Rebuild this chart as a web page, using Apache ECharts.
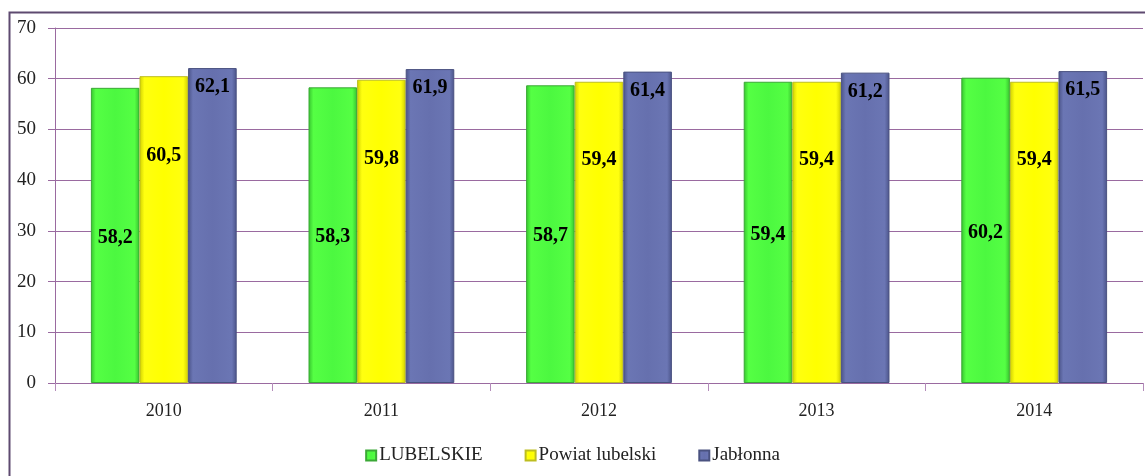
<!DOCTYPE html>
<html><head><meta charset="utf-8">
<script src="https://cdn.jsdelivr.net/npm/echarts@6/dist/echarts.min.js"></script>
<style>html,body{margin:0;padding:0;background:#fff}#c{width:1145px;height:476px}</style>
</head><body><div id="c"></div>
<script>
const categories = ['2010','2011','2012','2013','2014'];
const lubelskie = [58.2, 58.3, 58.7, 59.4, 60.2];
const powiat = [60.5, 59.8, 59.4, 59.4, 59.4];
const jablonna = [62.1, 61.9, 61.4, 61.2, 61.5];
const seriesNames = ['LUBELSKIE','Powiat lubelski','Jabłonna'];
const yTicks = [0,10,20,30,40,50,60,70];

const FONT = '"Liberation Serif", "DejaVu Serif", serif';
function grad(light, mid, dark){
  return new echarts.graphic.LinearGradient(0,0,1,0,[
    {offset:0,color:dark},{offset:0.1,color:light},{offset:0.5,color:mid},{offset:0.9,color:light},{offset:1,color:dark}]);
}
const fmt = p => p.value.toFixed(1).replace('.', ',');
const labelBase = {show:true, fontFamily:FONT, fontWeight:'bold', fontSize:20, color:'#000', formatter:fmt};

const chart = echarts.init(document.getElementById('c'));
chart.setOption({
  animation:false,
  textStyle:{fontFamily:FONT},
  graphic:[{type:'rect', shape:{x:9.5,y:12.5,width:1200,height:500}, style:{fill:'none', stroke:'#5E4A70', lineWidth:2}, silent:true, z:100}],
  grid:{left:55, top:28, right:2, bottom:93, containLabel:false},
  legend:{bottom:6, left:'center', itemWidth:10, itemHeight:10, itemGap:42,
    textStyle:{fontFamily:FONT, fontSize:19, color:'#222', padding:[0,0,0,-2]},
    data:seriesNames.map(n=>({name:n, icon:'rect'}))},
  xAxis:{type:'category', data:categories,
    axisLine:{lineStyle:{color:'#9A6AA0', width:1}},
    axisTick:{show:true, length:8, lineStyle:{color:'#B48CBA'}},
    axisLabel:{fontFamily:FONT, fontSize:18, color:'#222', margin:19}},
  yAxis:{type:'value', min:0, max:70, interval:10,
    axisLine:{show:true, lineStyle:{color:'#9A6AA0'}},
    axisTick:{show:true, length:7, lineStyle:{color:'#9A6AA0'}},
    splitLine:{lineStyle:{color:'#9A6AA0', width:1}},
    axisLabel:{fontFamily:FONT, fontSize:19, color:'#222', margin:19,
      formatter:v=>yTicks.includes(v)?String(v):''}},
  series:[
    {name:seriesNames[0], type:'bar', data:lubelskie, barGap:'0%', barCategoryGap:'33%',
      itemStyle:{color:grad('#55FF44','#4CF840','#36C22E'), borderColor:'#3BA836', borderWidth:1},
      label:Object.assign({position:'inside', offset:[0,2]}, labelBase)},
    {name:seriesNames[1], type:'bar', data:powiat, barGap:'0%', barCategoryGap:'33%',
      itemStyle:{color:grad('#FFFF10','#FFFF00','#CFCF00'), borderColor:'#BDBD20', borderWidth:1},
      label:Object.assign({position:['50%','26%'], align:'center', verticalAlign:'middle'}, labelBase)},
    {name:seriesNames[2], type:'bar', data:jablonna, barGap:'0%', barCategoryGap:'33%',
      itemStyle:{color:grad('#6B76B4','#6670AE','#4A5388'), borderColor:'#4A5280', borderWidth:1},
      label:Object.assign({position:'insideTop', distance:9}, labelBase)}
  ]
});
</script></body></html>
